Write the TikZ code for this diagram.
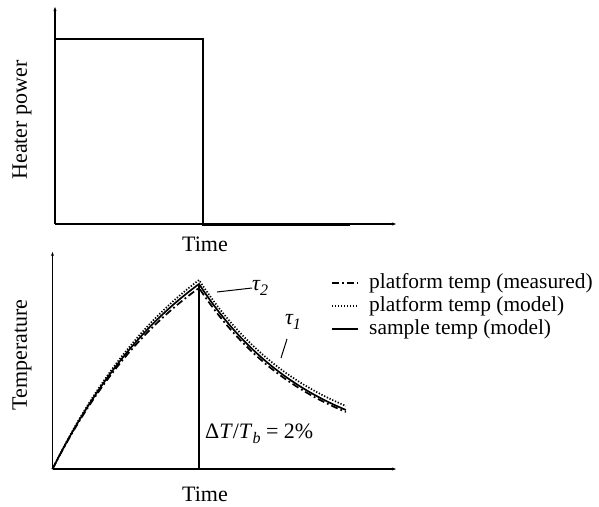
\documentclass[tikz,border=0pt]{standalone}
\usepackage{fontspec}
\setmainfont{Liberation Serif}
\usetikzlibrary{arrows.meta}
\tikzset{
  axis/.style={line width=1.1pt, -{Stealth[length=4pt,width=3pt]}},
  power/.style={line width=2.2pt},
  lbl/.style={font=\fontsize{22}{25}\selectfont, inner sep=0pt},
  leg/.style={font=\fontsize{21.4}{25}\selectfont, inner sep=0pt, anchor=west},
  pointer/.style={line width=1pt},
  sample/.style={line width=1.7pt},
  platmodel/.style={line width=1.7pt, dash pattern=on 1.3pt off 1.7pt},
  platmeas/.style={line width=1.7pt, dash pattern=on 7pt off 3pt on 1.8pt off 3pt},
}
\newcommand{\sub}[1]{\raisebox{-0.45ex}{\fontsize{16}{16}\selectfont\itshape #1}}
\begin{document}
\begin{tikzpicture}[x=1pt, y=-1pt]
\useasboundingbox (0,0) rectangle (599,506);

% ---- heater power pulse ----
\coordinate (p0) at (55,224);
\coordinate (pyt) at (55,7);
\coordinate (pxr) at (396,224);
\draw[axis] (p0) -- (pyt);
\draw[axis] (p0) -- (pxr);
\coordinate (h1) at (55,39);
\coordinate (h2) at (203,39);
\coordinate (h3) at (203,224.5);
\coordinate (h4) at (350,224.5);
\draw[power] (h1) -- (h2) -- (h3) -- (h4);
\node[lbl] (tp) at (205,244) {Time};
\node[lbl, rotate=90] (hp) at (22,120) {Heater power};

% ---- temperature response ----
\coordinate (t0) at (52.5,469);
\coordinate (tyt) at (52.5,252);
\coordinate (txr) at (396,469);
\draw[axis] (t0) -- (tyt);
\draw[axis] (t0) -- (txr);
\node[lbl] (tt) at (205,494) {Time};
\node[lbl, rotate=90] (tl) at (22,355) {Temperature};

% heating and cooling branches
\draw[platmodel] plot[domain=0:1, samples=60] ({52.5+146.5*\x}, {469-189*(1-exp(-\x))/(1-exp(-1))})
  -- plot[domain=0:1, samples=60] ({199+147*\x}, {280+126*(1-exp(-1.3*\x))/(1-exp(-1.3))});
\draw[sample] plot[domain=0:1, samples=60] ({52.5+146.5*\x}, {469-185*(1-exp(-\x))/(1-exp(-1))})
  -- plot[domain=0:1, samples=60] ({199+147*\x}, {284+126*(1-exp(-1.3*\x))/(1-exp(-1.3))});
\draw[platmeas] plot[domain=0:1, samples=60] ({52.5+146.5*\x}, {469-181*(1-exp(-\x))/(1-exp(-1))})
  -- plot[domain=0:1, samples=60] ({199+147*\x}, {288+124*(1-exp(-1.3*\x))/(1-exp(-1.3))});

\coordinate (pk) at (199,285);
\coordinate (pkb) at (199,469);
\draw[line width=1.1pt] (pk) -- (pkb);

% time constants
\node[lbl, anchor=west] (tau2) at (252,288) {\itshape τ\sub{2}};
\coordinate (tau2p) at (217,292);
\draw[pointer] (tau2.west) -- (tau2p);
\node[lbl] (tau1) at (293,322) {\itshape τ\sub{1}};
\coordinate (tau1p) at (281,358);
\draw[pointer] (287,339) -- (tau1p);

\node[lbl, anchor=west] (dt) at (205,434) {Δ\textit{T}/\textit{T}\sub{b} = 2\%};

% legend
\coordinate (l1a) at (332,283); \coordinate (l1b) at (358,283);
\coordinate (l2a) at (332,306); \coordinate (l2b) at (358,306);
\coordinate (l3a) at (332,329); \coordinate (l3b) at (358,329);
\draw[platmeas] (l1a) -- (l1b);
\draw[platmodel] (l2a) -- (l2b);
\draw[sample] (l3a) -- (l3b);
\node[leg] (g1) at (369,283) {platform temp (measured)};
\node[leg] (g2) at (369,306) {platform temp (model)};
\node[leg] (g3) at (369,329) {sample temp (model)};
\end{tikzpicture}
\end{document}
